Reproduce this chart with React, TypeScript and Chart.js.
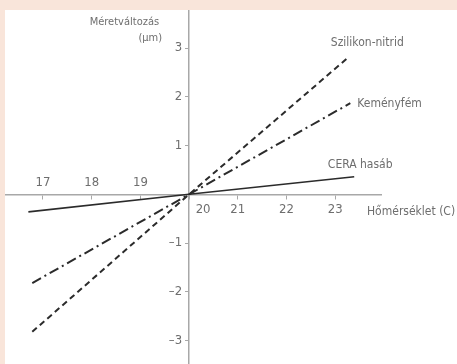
import React, { useEffect, useRef } from "react";
import { Chart, registerables } from "chart.js";

Chart.register(...registerables);

// Data
const siliconNitride = [
  { x: 16.78, y: -2.82 },
  { x: 20, y: 0 },
  { x: 23.27, y: 2.81 },
];
const hardMetal = [
  { x: 16.78, y: -1.82 },
  { x: 20, y: 0 },
  { x: 23.31, y: 1.87 },
];
const ceraBlock = [
  { x: 16.7, y: -0.36 },
  { x: 20, y: 0 },
  { x: 23.39, y: 0.36 },
];
const seriesNames = ["Szilikon-nitrid", "Keményfém", "CERA hasáb"];
const xTicksAbove = [17, 18, 19];
const xTicksBelow = [20, 21, 22, 23];
const yTicks = [3, 2, 1, -1, -2, -3];
const yTitle = ["Méretváltozás", "(µm)"];
const xTitle = "Hőmérséklet (C)";

const FONT = '"Liberation Sans Narrow", "DejaVu Sans Condensed", sans-serif';
const TEXT = "#6e6e6e";
const AXIS = "#a8a8a8";
const LINE = "#2b2b2b";

const labelsPlugin = {
  id: "customLabels",
  afterDraw(chart: any) {
    const ctx = chart.ctx;
    const xs = chart.scales.x;
    const ys = chart.scales.y;
    const x0 = xs.getPixelForValue(20);
    const y0 = ys.getPixelForValue(0);
    ctx.save();
    ctx.fillStyle = TEXT;
    ctx.font = `13px ${FONT}`;
    ctx.textAlign = "center";
    ctx.textBaseline = "bottom";
    xTicksAbove.forEach((v) => {
      ctx.fillText(String(v), xs.getPixelForValue(v), y0 - 5);
    });
    ctx.textBaseline = "top";
    xTicksBelow.forEach((v) => {
      let px = xs.getPixelForValue(v);
      if (Math.abs(px - x0) < 5) px += 14;
      ctx.fillText(String(v), px, y0 + 9);
    });
    ctx.textAlign = "right";
    ctx.textBaseline = "middle";
    yTicks.forEach((v) => {
      const t = v < 0 ? "\u2013" + Math.abs(v) : String(v);
      ctx.fillText(t, x0 - 7, ys.getPixelForValue(v));
    });
    // axis titles
    ctx.font = `11px ${FONT}`;
    ctx.textAlign = "right";
    ctx.fillText(yTitle[0], x0 - 30, ys.top + 11);
    ctx.fillText(yTitle[1], x0 - 27, ys.top + 27);
    ctx.textAlign = "left";
    ctx.font = `12px ${FONT}`;
    ctx.fillText(xTitle, xs.right - 14, y0 + 18);
    // series labels
    const ends = [siliconNitride, hardMetal, ceraBlock].map((d) => d[d.length - 1]);
    const offsets = [
      { dx: 19, dy: -14, align: "center" },
      { dx: 7, dy: 1, align: "left" },
      { dx: 6, dy: -12, align: "center" },
    ];
    ctx.font = `12px ${FONT}`;
    ends.forEach((p, i) => {
      const o = offsets[i];
      ctx.textAlign = o.align;
      ctx.fillText(seriesNames[i], xs.getPixelForValue(p.x) + o.dx, ys.getPixelForValue(p.y) + o.dy);
    });
    ctx.restore();
  },
};

export default function App() {
  const ref = useRef<HTMLCanvasElement>(null);
  useEffect(() => {
    const chart = new Chart(ref.current!, {
      type: "scatter",
      data: {
        datasets: [
          {
            label: seriesNames[0],
            data: siliconNitride,
            showLine: true,
            borderColor: LINE,
            borderWidth: 2,
            borderDash: [6, 4],
            pointRadius: 0,
          },
          {
            label: seriesNames[1],
            data: hardMetal,
            showLine: true,
            borderColor: LINE,
            borderWidth: 2,
            borderDash: [10, 4, 2, 4],
            pointRadius: 0,
          },
          {
            label: seriesNames[2],
            data: ceraBlock,
            showLine: true,
            borderColor: LINE,
            borderWidth: 1.6,
            pointRadius: 0,
          },
        ],
      },
      options: {
        animation: false,
        responsive: false,
        maintainAspectRatio: false,
        layout: { padding: { left: 0, right: 76, top: 1, bottom: 0 } },
        plugins: { legend: { display: false }, tooltip: { enabled: false } },
        scales: {
          x: {
            type: "linear",
            position: { y: 0 },
            min: 16.22,
            max: 23.94,
            ticks: { display: false, stepSize: 1, includeBounds: false },
            grid: { drawOnChartArea: false, drawTicks: true, tickLength: 4, color: AXIS },
            border: { display: true, color: AXIS, width: 1.5 },
          },
          y: {
            type: "linear",
            position: { x: 20 },
            min: -3.48,
            max: 3.76,
            ticks: { display: false, stepSize: 1, includeBounds: false },
            grid: { drawOnChartArea: false, drawTicks: true, tickLength: 3, color: AXIS },
            border: { display: true, color: AXIS, width: 1.5 },
          },
        },
      },
      plugins: [labelsPlugin],
    });
    return () => chart.destroy();
  }, []);
  return (
    <div style={{ position: "fixed", left: 0, top: 0, width: 457, height: 364, background: "#f9e5da" }}>
      <div style={{ position: "absolute", left: 5, top: 10, width: 452, height: 354, background: "#ffffff" }}>
        <canvas ref={ref} width={452} height={354} style={{ display: "block" }} />
      </div>
    </div>
  );
}
